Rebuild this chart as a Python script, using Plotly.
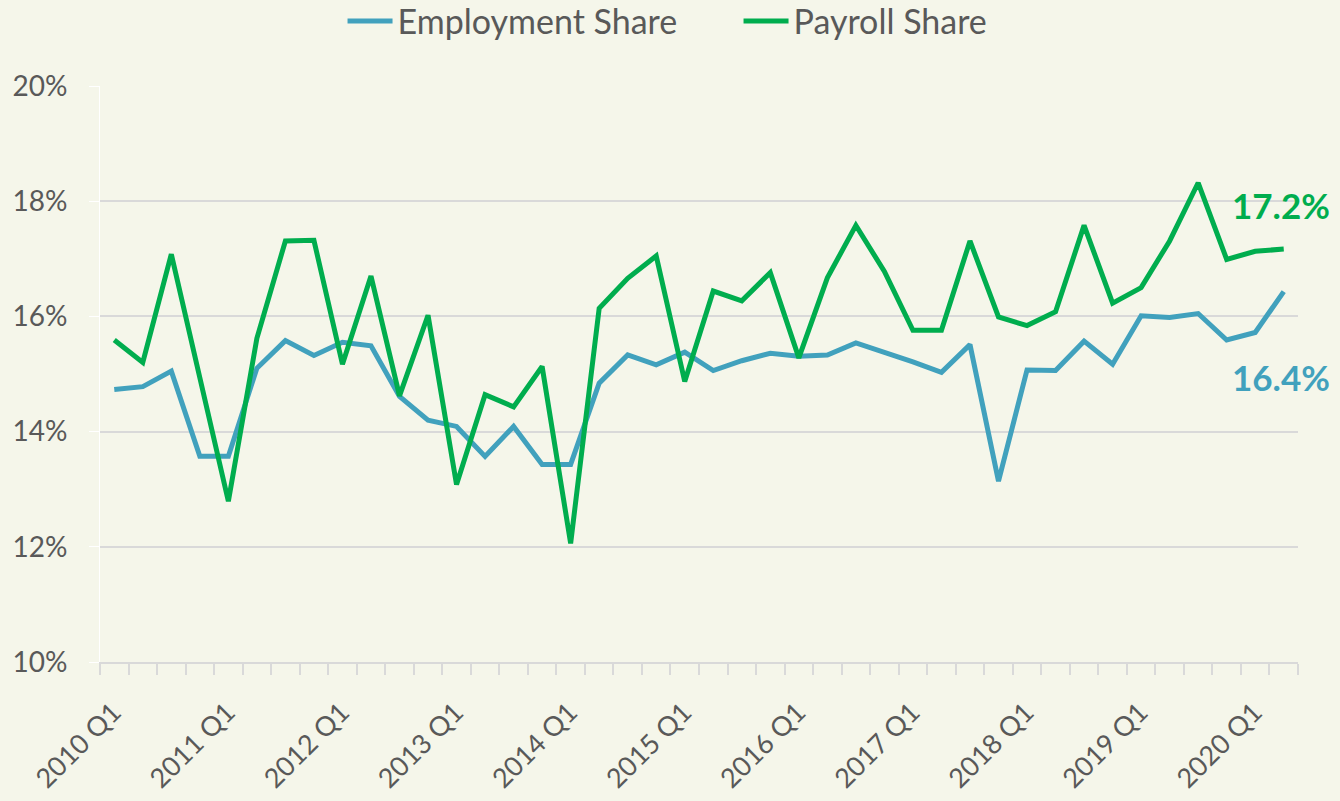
import plotly.graph_objects as go

quarters = [f"{y} Q{q}" for y in range(2010, 2021) for q in range(1, 5)][:42]

employment_share = [14.73, 14.78, 15.05, 13.57, 13.57, 15.10, 15.58, 15.32, 15.55, 15.49,
                    14.61, 14.20, 14.09, 13.57, 14.09, 13.43, 13.43, 14.84, 15.33, 15.16,
                    15.38, 15.06, 15.23, 15.36, 15.31, 15.33, 15.54, 15.38, 15.21, 15.03,
                    15.51, 13.14, 15.07, 15.06, 15.57, 15.17, 16.01, 15.98, 16.05, 15.59,
                    15.72, 16.43]

payroll_share = [15.59, 15.20, 17.08, 14.90, 12.79, 15.62, 17.31, 17.32, 15.17, 16.70,
                 14.62, 16.02, 13.08, 14.64, 14.43, 15.13, 12.06, 16.14, 16.66, 17.05,
                 14.87, 16.44, 16.27, 16.76, 15.28, 16.67, 17.58, 16.78, 15.76, 15.76,
                 17.31, 15.99, 15.84, 16.08, 17.58, 16.23, 16.50, 17.31, 18.32, 16.99,
                 17.13, 17.17]

tick_text = [q if q.endswith("Q1") else "" for q in quarters]
y_ticks = [10, 12, 14, 16, 18, 20]

BLUE = "#41A1BD"
GREEN = "#00AD4E"
GRAY_TXT = "#595959"
BG = "#F5F6EA"
FONT = "Lato"

fig = go.Figure()
fig.add_trace(go.Scatter(x=quarters, y=employment_share, mode="lines", name="Employment Share",
                         line=dict(color=BLUE, width=5)))
fig.add_trace(go.Scatter(x=quarters, y=payroll_share, mode="lines", name="Payroll Share",
                         line=dict(color=GREEN, width=5)))

fig.add_annotation(x=0.943, xref="paper", y=17.93, yref="y", text="<b>17.2%</b>",
                   showarrow=False, xanchor="left", yanchor="middle",
                   font=dict(family=FONT, size=35, color=GREEN))
fig.add_annotation(x=0.943, xref="paper", y=14.95, yref="y", text="<b>16.4%</b>",
                   showarrow=False, xanchor="left", yanchor="middle",
                   font=dict(family=FONT, size=35, color=BLUE))

fig.update_layout(
    width=1340, height=801,
    margin=dict(l=100, r=42, t=86, b=139, autoexpand=False),
    paper_bgcolor=BG, plot_bgcolor=BG,
    font=dict(family=FONT, color=GRAY_TXT, size=28),
    showlegend=True,
    legend=dict(orientation="h", x=0.533, xanchor="center", y=1.112, yanchor="middle",
                font=dict(family=FONT, size=34, color=GRAY_TXT), bgcolor="rgba(0,0,0,0)",
                itemwidth=45, entrywidth=336),
    xaxis=dict(type="category", tickmode="array", tickvals=quarters, ticktext=tick_text,
               tickson="boundaries", ticks="outside", ticklen=11, tickcolor="#D9D9D9", tickwidth=1.5,
               showline=True, linecolor="#D9D9D9", linewidth=1.5, showgrid=False,
               tickangle=-45, tickfont=dict(family=FONT, size=27, color=GRAY_TXT),
               ticklabelstandoff=22, ticklabelshift=-1,
               range=[-0.5, 41.5], automargin=False),
    yaxis=dict(range=[10, 20], tickmode="array", tickvals=y_ticks,
               ticktext=[f"{v}%" for v in y_ticks],
               showgrid=True, gridcolor="#D9D9D9", gridwidth=1.5, zeroline=False,
               showline=True, linecolor="#FFFFFF", linewidth=1,
               ticks="outside", ticklen=10, tickcolor="#FFFFFF",
               ticklabelstandoff=16,
               tickfont=dict(family=FONT, size=28, color=GRAY_TXT), automargin=False),
)

fig.write_html("out.html", config={"displayModeBar": False},
               post_script="document.body.style.margin='0px';document.body.style.overflow='hidden';")
